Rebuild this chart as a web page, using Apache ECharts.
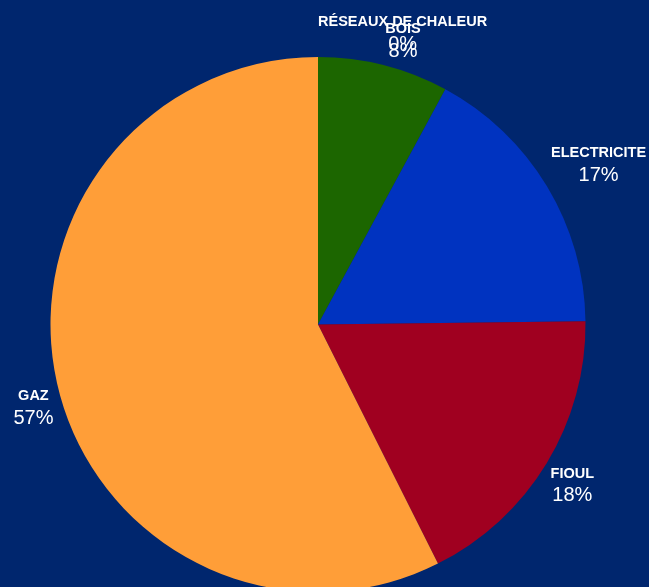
<!DOCTYPE html>
<html>
<head>
<meta charset="utf-8">
<style>
html,body{margin:0;padding:0;background:#00266E;}
#chart{width:649px;height:587px;}
</style>
<script src="https://cdn.jsdelivr.net/npm/echarts@6/dist/echarts.min.js"></script>
</head>
<body>
<div id="chart"></div>
<script>
const categories = ['RÉSEAUX DE CHALEUR', 'BOIS', 'ELECTRICITE', 'FIOUL', 'GAZ'];
const values = [0, 7.9, 16.9, 17.8, 57.4];
const colors = ['#7A7A7A', '#1C6600', '#0033C0', '#A00020', '#FF9E38'];

// label nudges (dx, dy) and alignment, relative to ECharts' outside label layout
const labelNudge = [
  {dx: 0, dy: 4, align: 'left'},
  {dx: -5, dy: 2},
  {dx: -19, dy: -7},
  {dx: -19, dy: 8},
  {dx: 22, dy: 16}
];

const chart = echarts.init(document.getElementById('chart'), null, {renderer: 'canvas'});
chart.setOption({
  backgroundColor: '#00266E',
  animation: false,
  series: [{
    type: 'pie',
    center: [318, 324.5],
    radius: 267.5,
    startAngle: 90,
    clockwise: true,
    avoidLabelOverlap: false,
    data: categories.map((c, i) => ({name: c, value: values[i], itemStyle: {color: colors[i]}})),
    itemStyle: {borderWidth: 0},
    label: {
      show: true,
      position: 'outside',
      distanceToLabelLine: 0,
      formatter: function (p) { return '{n|' + p.name + '}\n{p|' + Math.round(p.percent) + '%}'; },
      color: '#fff',
      rich: {
        n: {fontFamily: 'Liberation Sans, Arial, sans-serif', fontWeight: 'bold', fontSize: 14.5, lineHeight: 20, color: '#fff', align: 'center'},
        p: {fontFamily: 'Liberation Sans, Arial, sans-serif', fontSize: 20, lineHeight: 24, color: '#fff', align: 'center'}
      }
    },
    labelLine: {show: false, length: 27, length2: 0},
    labelLayout: function (params) {
      return labelNudge[params.dataIndex];
    },
    emphasis: {disabled: true}
  }]
});
</script>
</body>
</html>
